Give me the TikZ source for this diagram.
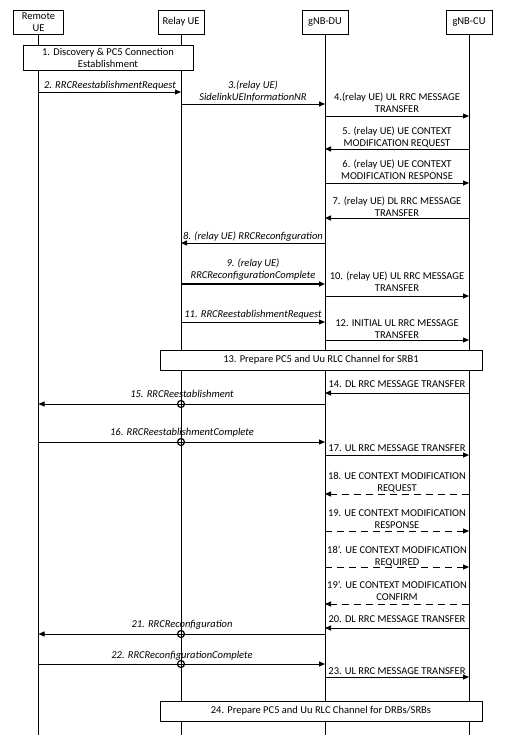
\documentclass[tikz,border=0pt]{standalone}
\usepackage{fontspec}
\setmainfont{Carlito}
\usetikzlibrary{arrows.meta}

\begin{document}
\begin{tikzpicture}[x=1pt, y=-1pt, line width=0.9pt,
    entity/.style={draw, fill=white, align=center, inner sep=0pt,
        minimum height=24pt, font=\fontsize{10.5}{12}\selectfont},
    stepbox/.style={draw, fill=white, align=center, inner sep=0pt,
        minimum width=322pt, minimum height=20pt, font=\fontsize{10.5}{12}\selectfont},
    msg/.style={-{Triangle[length=6pt,width=5pt]}},
    reply/.style={msg, dash pattern=on 7pt off 5pt},
    lbl/.style={align=center, inner sep=0pt, font=\fontsize{10.5}{12}\selectfont},
    ilbl/.style={lbl, font=\fontsize{10.5}{12}\selectfont\itshape},
    relayed/.style={draw, circle, line width=1.2pt, minimum size=7pt, inner sep=0pt}]
    \useasboundingbox (0,0) rectangle (510,749);

    % Entities
    \node[entity, minimum width=50pt] (rue) at (38.5,22) {Remote\\UE};
    \node[entity, minimum width=46pt] (rly) at (181,22) {Relay UE};
    \node[entity, minimum width=46pt] (du) at (325,22) {gNB-DU};
    \node[entity, minimum width=46pt] (cu) at (469,22) {gNB-CU};

    % Lifelines
    \foreach \n in {rue,rly,du,cu}
        \draw (\n.south) -- (\n.south |- 0,735);

    % Step 1
    \node[stepbox, minimum width=170pt, minimum height=25pt] (disc) at (108,57.5)
        {1. Discovery \& PC5 Connection\\Establishment};

    % Steps 2-4
    \draw[msg] (rue |- 0,92) -- (rly |- 0,92);
    \node[ilbl] (m2) at (110,86) {2. RRCReestablishmentRequest};
    \draw[msg] (rly |- 0,104) -- (du |- 0,104);
    \node[ilbl] (m3) at (253,91) {3.(relay UE)\\SidelinkUEInformationNR};
    \draw[msg] (du |- 0,116) -- (cu |- 0,116);
    \node[lbl] (m4) at (397,103) {4.(relay UE) UL RRC MESSAGE\\TRANSFER};

    % Steps 5-8
    \draw[msg] (cu |- 0,149) -- (du |- 0,149);
    \node[lbl] (m5) at (397,137.5) {5. (relay UE) UE CONTEXT\\MODIFICATION REQUEST};
    \draw[msg] (du |- 0,183) -- (cu |- 0,183);
    \node[lbl] (m6) at (397,169.5) {6. (relay UE) UE CONTEXT\\MODIFICATION RESPONSE};
    \draw[msg] (cu |- 0,218) -- (du |- 0,218);
    \node[lbl] (m7) at (397,206.5) {7. (relay UE) DL RRC MESSAGE\\TRANSFER};
    \draw[msg] (du |- 0,243) -- (rly |- 0,243);
    \node[ilbl] (m8) at (253,237) {8. (relay UE) RRCReconfiguration};

    % Steps 9-12
    \draw[msg, line width=2pt] (rly |- 0,284) -- (du |- 0,284);
    \node[ilbl] (m9) at (253,270) {9. (relay UE)\\RRCReconfigurationComplete};
    \draw[msg] (du |- 0,296) -- (cu |- 0,296);
    \node[lbl] (m10) at (397,282) {10. (relay UE) UL RRC MESSAGE\\TRANSFER};
    \draw[msg] (rly |- 0,322) -- (du |- 0,322);
    \node[ilbl] (m11) at (253,315) {11. RRCReestablishmentRequest};
    \draw[msg] (du |- 0,340) -- (cu |- 0,340);
    \node[lbl] (m12) at (397,329.5) {12. INITIAL UL RRC MESSAGE\\TRANSFER};

    % Step 13
    \node[stepbox] (prep1) at (321,360) {13. Prepare PC5 and Uu RLC Channel for SRB1};

    % Steps 14-17
    \draw[msg] (cu |- 0,393) -- (du |- 0,393);
    \node[lbl] (m14) at (397,384) {14. DL RRC MESSAGE TRANSFER};
    \draw[msg] (du |- 0,404) -- (rue |- 0,404);
    \node[ilbl] (m15) at (182,394) {15. RRCReestablishment};
    \node[relayed] (x15) at (rly |- 0,404) {};
    \draw[msg] (rue |- 0,442) -- (du |- 0,442);
    \node[ilbl] (m16) at (182,433) {16. RRCReestablishmentComplete};
    \node[relayed] (x16) at (rly |- 0,442) {};
    \draw[msg] (du |- 0,455) -- (cu |- 0,455);
    \node[lbl] (m17) at (397,448) {17. UL RRC MESSAGE TRANSFER};

    % Steps 18-19'
    \draw[reply] (cu |- 0,494) -- (du |- 0,494);
    \node[lbl] (m18) at (397,483) {18. UE CONTEXT MODIFICATION\\REQUEST};
    \draw[reply] (du |- 0,531) -- (cu |- 0,531);
    \node[lbl] (m19) at (397,519.5) {19. UE CONTEXT MODIFICATION\\RESPONSE};
    \draw[reply] (du |- 0,567) -- (cu |- 0,567);
    \node[lbl] (m18b) at (397,556) {18'. UE CONTEXT MODIFICATION\\REQUIRED};
    \draw[reply] (cu |- 0,604) -- (du |- 0,604);
    \node[lbl] (m19b) at (397,591) {19'. UE CONTEXT MODIFICATION\\CONFIRM};

    % Steps 20-23
    \draw[msg] (cu |- 0,628) -- (du |- 0,628);
    \node[lbl] (m20) at (397,619) {20. DL RRC MESSAGE TRANSFER};
    \draw[msg] (du |- 0,634) -- (rue |- 0,634);
    \node[ilbl] (m21) at (182,625) {21. RRCReconfiguration};
    \node[relayed] (x21) at (rly |- 0,634) {};
    \draw[msg] (rue |- 0,664) -- (du |- 0,664);
    \node[ilbl] (m22) at (182,656) {22. RRCReconfigurationComplete};
    \node[relayed] (x22) at (rly |- 0,664) {};
    \draw[msg] (du |- 0,677) -- (cu |- 0,677);
    \node[lbl] (m23) at (397,671) {23. UL RRC MESSAGE TRANSFER};

    % Step 24
    \node[stepbox] (prep2) at (321,711) {24. Prepare PC5 and Uu RLC Channel for DRBs/SRBs};
\end{tikzpicture}
\end{document}
